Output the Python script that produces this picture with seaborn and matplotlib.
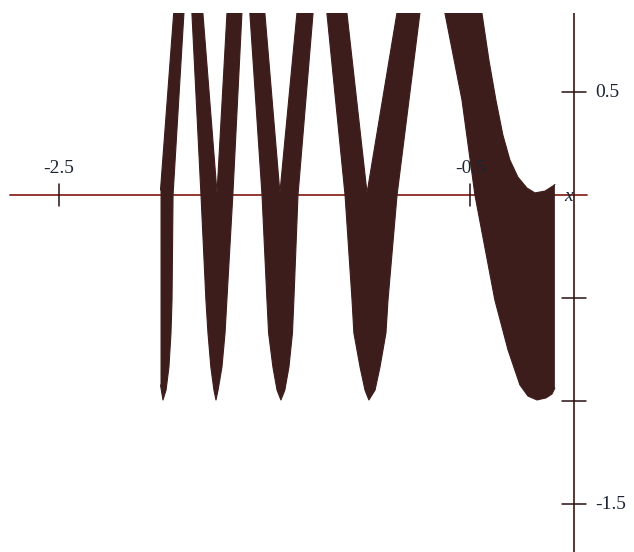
import numpy as np
import matplotlib
matplotlib.use("Agg")
import matplotlib.pyplot as plt
import seaborn as sns
import pandas as pd

# ---- data (data units) ----
# upper boundary of the dark band
hi_x = [-2.007, -1.934, -1.873, -1.810, -1.732, -1.677, -1.591, -1.509, -1.426,
        -1.332, -1.231, -1.113, -1.002, -0.837, -0.686, -0.456, -0.443, -0.409,
        -0.375, -0.341, -0.307, -0.268, -0.224, -0.185, -0.136, -0.097, -0.088]
hi_y = [0.024, 1.000, 1.238, 1.000, 0.010, 1.000, 1.238, 1.000, 0.010,
        1.000, 1.238, 1.000, 0.010, 1.000, 1.238, 1.000, 0.883, 0.655,
        0.461, 0.291, 0.170, 0.087, 0.034, 0.010, 0.019, 0.044, 0.051]
# lower boundary of the dark band
lo_x = [-2.007, -1.995, -1.980, -1.966, -1.956, -1.951, -1.946, -1.886, -1.873,
        -1.860, -1.810, -1.786, -1.776, -1.762, -1.747, -1.737, -1.727, -1.708,
        -1.693, -1.684, -1.655, -1.605, -1.591, -1.580, -1.513, -1.489, -1.481,
        -1.460, -1.440, -1.421, -1.402, -1.382, -1.365, -1.358, -1.338, -1.255,
        -1.231, -1.209, -1.109, -1.075, -1.066, -1.036, -1.012, -0.993, -0.963,
        -0.939, -0.910, -0.900, -0.856, -0.730, -0.686, -0.646, -0.623, -0.540,
        -0.477, -0.380, -0.316, -0.258, -0.219, -0.175, -0.131, -0.102, -0.088]
lo_y = [-0.922, -0.995, -0.947, -0.835, -0.670, -0.510, 0.000, 1.000, 1.092,
        1.000, 0.000, -0.510, -0.670, -0.835, -0.947, -0.995, -0.947, -0.835,
        -0.670, -0.510, 0.000, 1.000, 1.092, 1.000, 0.000, -0.510, -0.670,
        -0.835, -0.947, -0.995, -0.947, -0.835, -0.670, -0.510, 0.000, 1.000,
        1.092, 1.000, 0.000, -0.510, -0.670, -0.835, -0.947, -0.995, -0.947,
        -0.835, -0.670, -0.510, 0.000, 1.000, 1.092, 1.000, 0.883, 0.461,
        0.000, -0.510, -0.752, -0.922, -0.976, -0.995, -0.985, -0.966, -0.937]

x_ticks = [-2.5, -0.5]
x_tick_labels = ["-2.5", "-0.5"]
y_ticks = [0.5, -0.5, -1.0, -1.5]
y_tick_labels = {0.5: "0.5", -1.5: "-1.5"}

# ---- style ----
sns.set_theme(style="white")
plt.rcParams["font.family"] = ["Liberation Serif", "DejaVu Serif"]

band_color = "#3d1d1b"
axis_color = "#8a2a24"
text_color = "#1b2433"

fig = plt.figure(figsize=(6.34, 5.52), dpi=100)
ax = fig.add_axes([0, 0, 1, (552 - 13) / 552])

# band
poly_x = np.concatenate([hi_x, lo_x[::-1]])
poly_y = np.concatenate([hi_y, lo_y[::-1]])
ax.fill(poly_x, poly_y, color=band_color, lw=0, zorder=2)
hi_df = pd.DataFrame({"x": hi_x, "y": hi_y})
lo_df = pd.DataFrame({"x": lo_x, "y": lo_y})
sns.lineplot(data=hi_df, x="x", y="y", ax=ax, color=band_color, lw=0.8,
             estimator=None, sort=False, zorder=2)
sns.lineplot(data=lo_df, x="x", y="y", ax=ax, color=band_color, lw=0.8,
             estimator=None, sort=False, zorder=2)
ax.axis("off")
ax.set_xlim(-2.788, 0.297)
ax.set_ylim(-1.733, 0.8835)

# axes lines
ax.axhline(0, xmin=10 / 634, xmax=587 / 634, color=axis_color, lw=1.3, zorder=1)
ax.axvline(0.005, color="#3a1512", lw=1.2, zorder=1)

# ticks
for t in x_ticks:
    ax.plot([t, t], [-0.053, 0.053], color="#2a1010", lw=1.1, zorder=3)
for t in y_ticks:
    ax.plot([-0.053, 0.063], [t, t], color="#2a1010", lw=1.1, zorder=3)

for t, lab in zip(x_ticks, x_tick_labels):
    ax.text(t, 0.128, lab, ha="center", va="center", fontsize=14,
            color=text_color, zorder=4)
for t, lab in y_tick_labels.items():
    ax.text(0.107, t, lab, ha="left", va="center", fontsize=14,
            color=text_color, zorder=4)
ax.text(-0.02, -0.005, "x", ha="center", va="center", fontsize=14,
        style="italic", color=text_color, zorder=4)

fig.savefig("out.png", dpi=100)
